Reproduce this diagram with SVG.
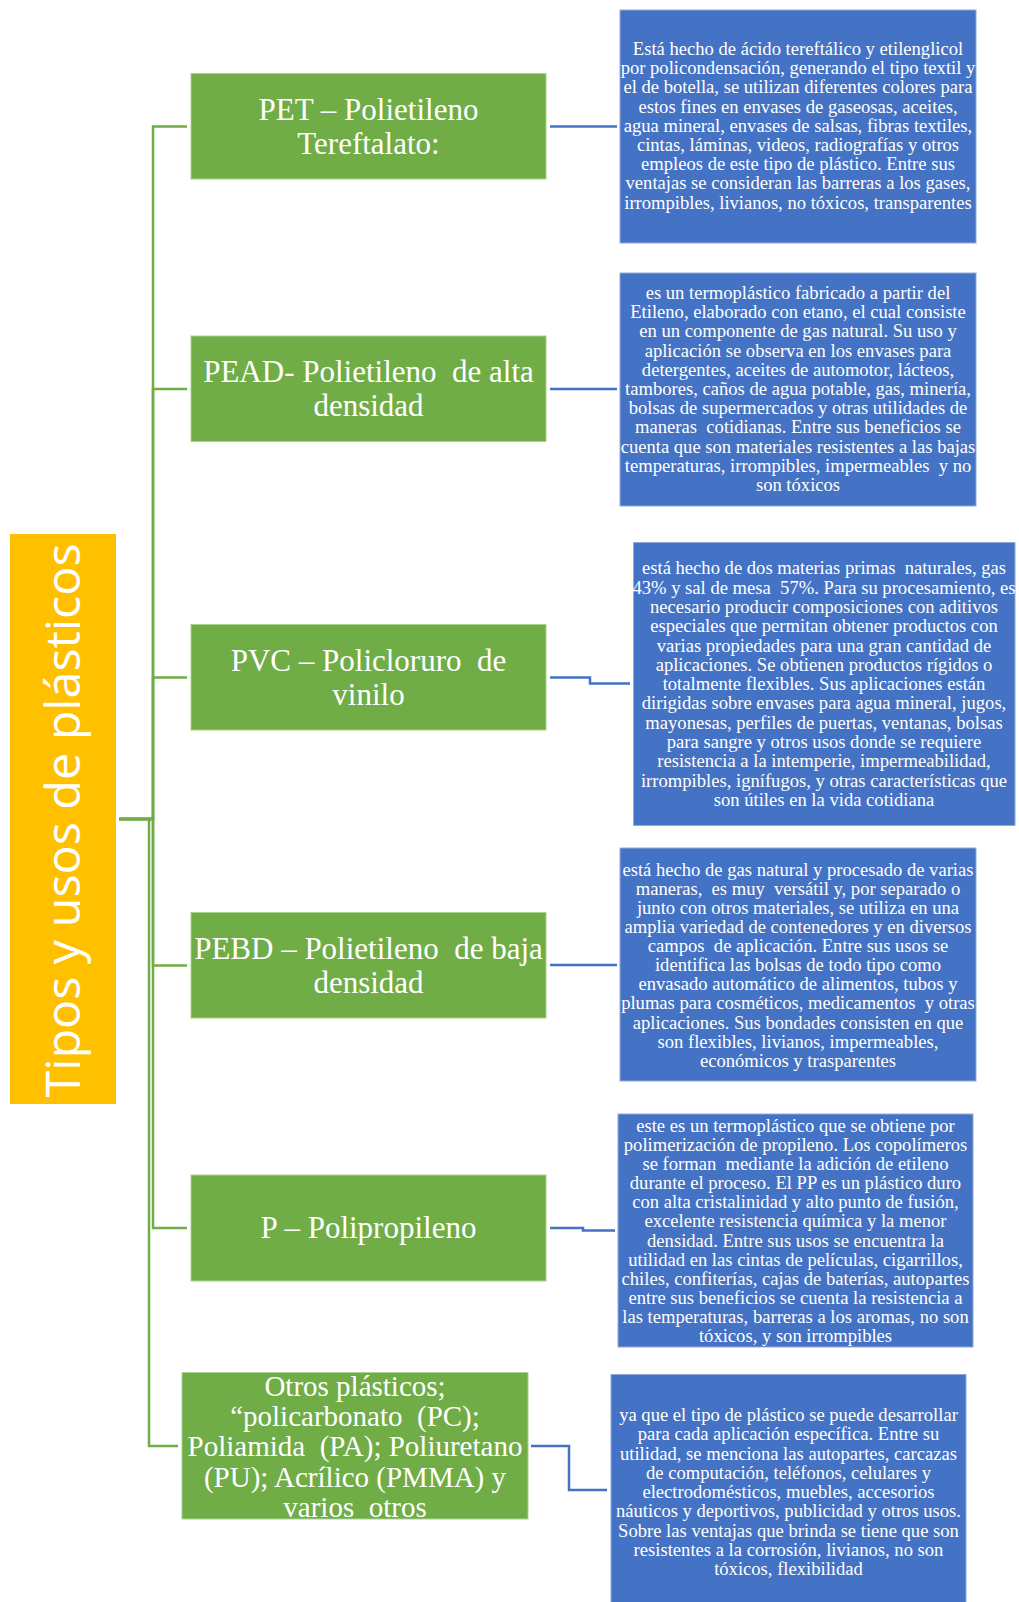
<svg xmlns="http://www.w3.org/2000/svg" width="1019" height="1602" viewBox="0 0 1019 1602">
<style>
.bg{fill:#FFFFFF}
.root{fill:#FFC000}
.green{fill:#70AD47;stroke:#A9D18E;stroke-width:1}
.blue{fill:#4472C4;stroke:#8FAADC;stroke-width:1}
.gl{fill:none;stroke:#70AD47;stroke-width:2.5}
.bl{fill:none;stroke:#4472C4;stroke-width:2.5}
.title{font-family:"Open Sans","Liberation Sans",sans-serif;font-weight:400;font-size:47px;fill:#FFFFFF;text-anchor:middle}
.gt{font-family:"Liberation Serif","Times New Roman",serif;font-size:31px;fill:#FFFFFF;text-anchor:middle;white-space:pre}
.ot{font-family:"Liberation Serif","Times New Roman",serif;font-size:29px;fill:#FFFFFF;text-anchor:middle;white-space:pre}
.bt{font-family:"Liberation Serif","Times New Roman",serif;font-size:18.6px;fill:#FFFFFF;text-anchor:middle;white-space:pre}
</style>
<rect class="bg" x="0" y="0" width="1019" height="1602"/>

<g id="connectors">
  <path class="gl" d="M119,819 H153 V126.5 H187"/>
  <path class="gl" d="M119,819 H153 V389 H187"/>
  <path class="gl" d="M119,819 H153 V677.5 H187"/>
  <path class="gl" d="M119,819 H153 V965.5 H187"/>
  <path class="gl" d="M119,819 H153 V1228 H187"/>
  <path class="gl" d="M119,819 H149 V1446 H178"/>
  <path class="bl" d="M550,126.5 H617"/>
  <path class="bl" d="M550,389 H617"/>
  <path class="bl" d="M550,677.5 H590 V683.5 H630"/>
  <path class="bl" d="M550,965 H617"/>
  <path class="bl" d="M550,1228 H583 V1230.5 H615"/>
  <path class="bl" d="M531,1446 H569 V1490 H607"/>
</g>

<g id="root">
  <rect class="root" x="10" y="534" width="106" height="570"/>
  <text class="title" transform="translate(80,820.5) rotate(-90)" textLength="554" lengthAdjust="spacingAndGlyphs">Tipos y usos de plásticos</text>
</g>

<g id="pet">
  <rect class="green" x="191" y="73.5" width="355" height="105.5"/>
  <text class="gt" x="368.5" y="120">PET – Polietileno</text>
  <text class="gt" x="368.5" y="154">Tereftalato:</text>
</g>
<g id="pead">
  <rect class="green" x="191" y="336" width="355" height="105.5"/>
  <text class="gt" x="368.5" y="382">PEAD- Polietileno  de alta</text>
  <text class="gt" x="368.5" y="416">densidad</text>
</g>
<g id="pvc">
  <rect class="green" x="191" y="624.5" width="355" height="105.5"/>
  <text class="gt" x="368.5" y="670.5">PVC – Policloruro  de</text>
  <text class="gt" x="368.5" y="704.5">vinilo</text>
</g>
<g id="pebd">
  <rect class="green" x="191" y="912.5" width="355" height="105.5"/>
  <text class="gt" x="368.5" y="958.5">PEBD – Polietileno  de baja</text>
  <text class="gt" x="368.5" y="992.5">densidad</text>
</g>
<g id="pp">
  <rect class="green" x="191" y="1175" width="355" height="106"/>
  <text class="gt" x="368.5" y="1238">P – Polipropileno</text>
</g>
<g id="otros">
  <rect class="green" x="182" y="1372.5" width="346" height="146.5"/>
  <text class="ot" x="355" y="1395.5">Otros plásticos;</text>
  <text class="ot" x="355" y="1425.5">“policarbonato  (PC);</text>
  <text class="ot" x="355" y="1456">Poliamida  (PA); Poliuretano</text>
  <text class="ot" x="355" y="1487">(PU); Acrílico (PMMA) y</text>
  <text class="ot" x="355" y="1517">varios  otros</text>
</g>

<g id="desc-pet">
  <rect class="blue" x="620" y="10" width="356" height="233"/>
  <text class="bt" x="798" y="55">Está hecho de ácido tereftálico y etilenglicol</text>
  <text class="bt" x="798" y="74.2">por policondensación, generando el tipo textil y</text>
  <text class="bt" x="798" y="93.4">el de botella, se utilizan diferentes colores para</text>
  <text class="bt" x="798" y="112.6">estos fines en envases de gaseosas, aceites,</text>
  <text class="bt" x="798" y="131.8">agua mineral, envases de salsas, fibras textiles,</text>
  <text class="bt" x="798" y="151">cintas, láminas, videos, radiografías y otros</text>
  <text class="bt" x="798" y="170.2">empleos de este tipo de plástico. Entre sus</text>
  <text class="bt" x="798" y="189.4">ventajas se consideran las barreras a los gases,</text>
  <text class="bt" x="798" y="208.6">irrompibles, livianos, no tóxicos, transparentes</text>
</g>
<g id="desc-pead">
  <rect class="blue" x="620" y="273" width="356" height="233"/>
  <text class="bt" x="798" y="299">es un termoplástico fabricado a partir del</text>
  <text class="bt" x="798" y="318.2">Etileno, elaborado con etano, el cual consiste</text>
  <text class="bt" x="798" y="337.4">en un componente de gas natural. Su uso y</text>
  <text class="bt" x="798" y="356.6">aplicación se observa en los envases para</text>
  <text class="bt" x="798" y="375.8">detergentes, aceites de automotor, lácteos,</text>
  <text class="bt" x="798" y="395">tambores, caños de agua potable, gas, minería,</text>
  <text class="bt" x="798" y="414.2">bolsas de supermercados y otras utilidades de</text>
  <text class="bt" x="798" y="433.4">maneras  cotidianas. Entre sus beneficios se</text>
  <text class="bt" x="798" y="452.6">cuenta que son materiales resistentes a las bajas</text>
  <text class="bt" x="798" y="471.8">temperaturas, irrompibles, impermeables  y no</text>
  <text class="bt" x="798" y="491">son tóxicos</text>
</g>
<g id="desc-pvc">
  <rect class="blue" x="633.5" y="542.5" width="381.5" height="283"/>
  <text class="bt" x="824" y="574.3">está hecho de dos materias primas  naturales, gas</text>
  <text class="bt" x="824" y="593.6">43% y sal de mesa  57%. Para su procesamiento, es</text>
  <text class="bt" x="824" y="612.9">necesario producir composiciones con aditivos</text>
  <text class="bt" x="824" y="632.2">especiales que permitan obtener productos con</text>
  <text class="bt" x="824" y="651.5">varias propiedades para una gran cantidad de</text>
  <text class="bt" x="824" y="670.8">aplicaciones. Se obtienen productos rígidos o</text>
  <text class="bt" x="824" y="690.1">totalmente flexibles. Sus aplicaciones están</text>
  <text class="bt" x="824" y="709.4">dirigidas sobre envases para agua mineral, jugos,</text>
  <text class="bt" x="824" y="728.7">mayonesas, perfiles de puertas, ventanas, bolsas</text>
  <text class="bt" x="824" y="748">para sangre y otros usos donde se requiere</text>
  <text class="bt" x="824" y="767.3">resistencia a la intemperie, impermeabilidad,</text>
  <text class="bt" x="824" y="786.6">irrompibles, ignífugos, y otras características que</text>
  <text class="bt" x="824" y="805.9">son útiles en la vida cotidiana</text>
</g>
<g id="desc-pebd">
  <rect class="blue" x="620" y="848" width="356" height="233"/>
  <text class="bt" x="798" y="875.7">está hecho de gas natural y procesado de varias</text>
  <text class="bt" x="798" y="894.8">maneras,  es muy  versátil y, por separado o</text>
  <text class="bt" x="798" y="913.9">junto con otros materiales, se utiliza en una</text>
  <text class="bt" x="798" y="933">amplia variedad de contenedores y en diversos</text>
  <text class="bt" x="798" y="952.1">campos  de aplicación. Entre sus usos se</text>
  <text class="bt" x="798" y="971.2">identifica las bolsas de todo tipo como</text>
  <text class="bt" x="798" y="990.3">envasado automático de alimentos, tubos y</text>
  <text class="bt" x="798" y="1009.4">plumas para cosméticos, medicamentos  y otras</text>
  <text class="bt" x="798" y="1028.5">aplicaciones. Sus bondades consisten en que</text>
  <text class="bt" x="798" y="1047.6">son flexibles, livianos, impermeables,</text>
  <text class="bt" x="798" y="1066.7">económicos y trasparentes</text>
</g>
<g id="desc-pp">
  <rect class="blue" x="618" y="1114" width="355" height="233"/>
  <text class="bt" x="795.5" y="1131.7">este es un termoplástico que se obtiene por</text>
  <text class="bt" x="795.5" y="1150.85">polimerización de propileno. Los copolímeros</text>
  <text class="bt" x="795.5" y="1170">se forman  mediante la adición de etileno</text>
  <text class="bt" x="795.5" y="1189.15">durante el proceso. El PP es un plástico duro</text>
  <text class="bt" x="795.5" y="1208.3">con alta cristalinidad y alto punto de fusión,</text>
  <text class="bt" x="795.5" y="1227.45">excelente resistencia química y la menor</text>
  <text class="bt" x="795.5" y="1246.6">densidad. Entre sus usos se encuentra la</text>
  <text class="bt" x="795.5" y="1265.75">utilidad en las cintas de películas, cigarrillos,</text>
  <text class="bt" x="795.5" y="1284.9">chiles, confiterías, cajas de baterías, autopartes</text>
  <text class="bt" x="795.5" y="1304.05">entre sus beneficios se cuenta la resistencia a</text>
  <text class="bt" x="795.5" y="1323.2">las temperaturas, barreras a los aromas, no son</text>
  <text class="bt" x="795.5" y="1342.35">tóxicos, y son irrompibles</text>
</g>
<g id="desc-otros">
  <rect class="blue" x="611" y="1374.5" width="355" height="233"/>
  <text class="bt" x="788.5" y="1421">ya que el tipo de plástico se puede desarrollar</text>
  <text class="bt" x="788.5" y="1440.25">para cada aplicación específica. Entre su</text>
  <text class="bt" x="788.5" y="1459.5">utilidad, se menciona las autopartes, carcazas</text>
  <text class="bt" x="788.5" y="1478.75">de computación, teléfonos, celulares y</text>
  <text class="bt" x="788.5" y="1498">electrodomésticos, muebles, accesorios</text>
  <text class="bt" x="788.5" y="1517.25">náuticos y deportivos, publicidad y otros usos.</text>
  <text class="bt" x="788.5" y="1536.5">Sobre las ventajas que brinda se tiene que son</text>
  <text class="bt" x="788.5" y="1555.75">resistentes a la corrosión, livianos, no son</text>
  <text class="bt" x="788.5" y="1575">tóxicos, flexibilidad</text>
</g>
</svg>
